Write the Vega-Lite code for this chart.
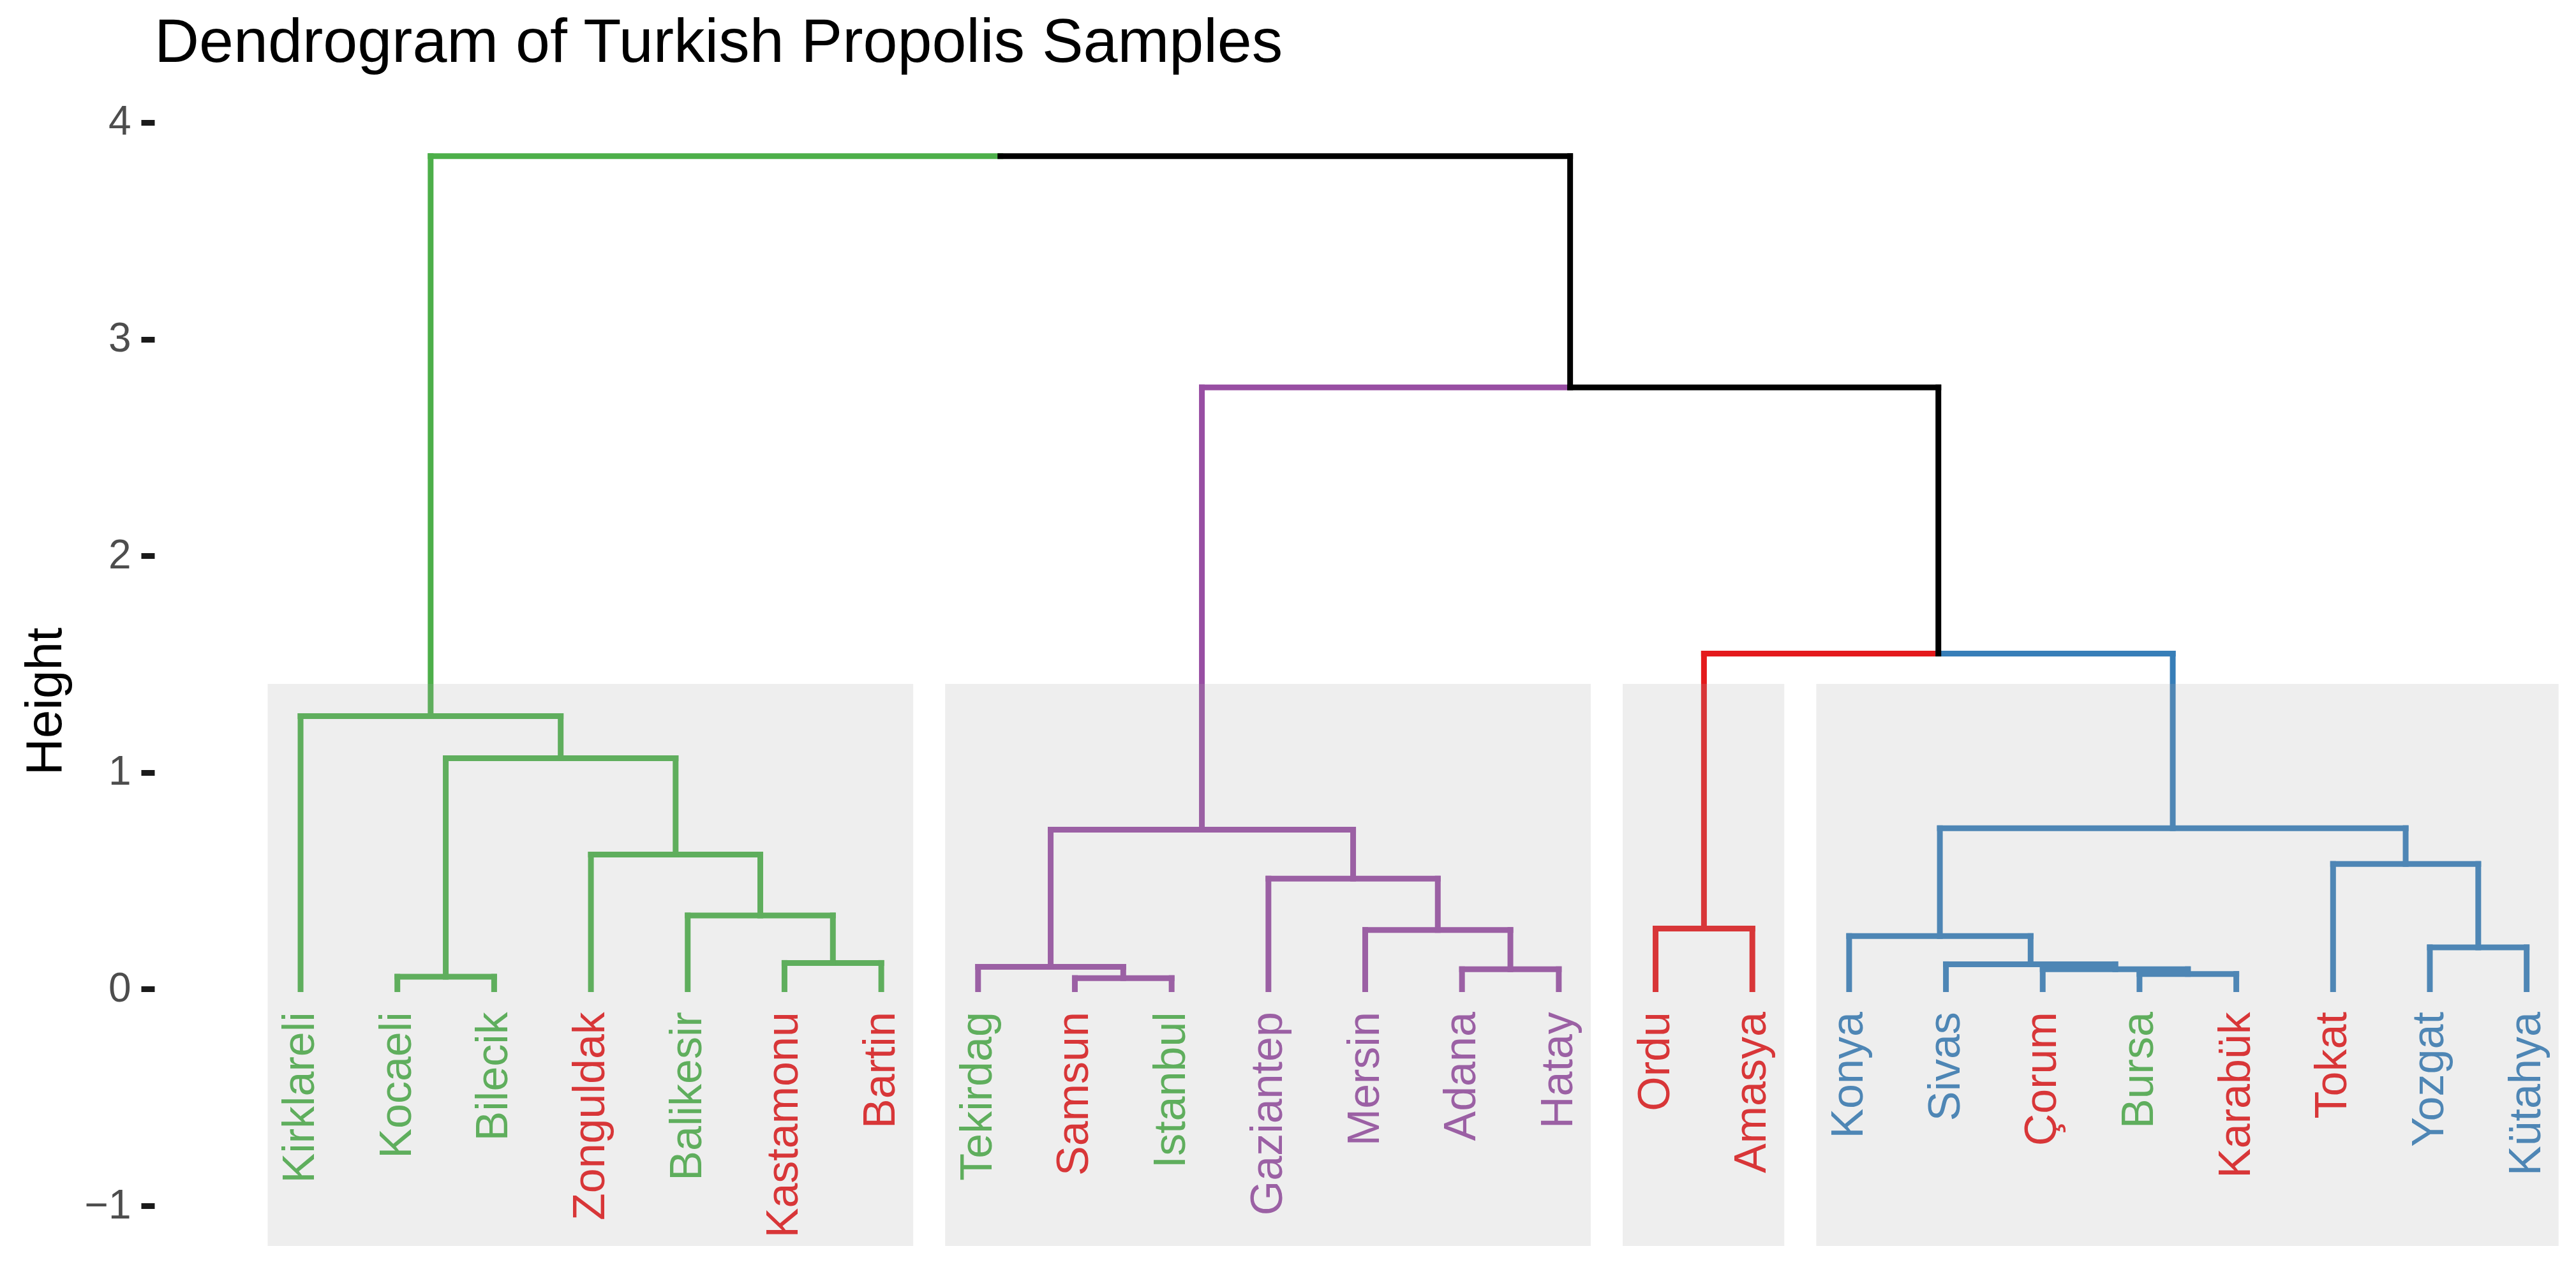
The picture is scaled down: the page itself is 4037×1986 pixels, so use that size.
{
  "$schema": "https://vega.github.io/schema/vega-lite/v6.json",
  "width": 3795,
  "height": 1819,
  "autosize": {"type": "none"},
  "padding": {"left": 242, "top": 156, "right": 0, "bottom": 0},
  "background": "white",
  "config": {"view": {"stroke": null}, "font": "Liberation Sans"},
  "title": {
    "text": "Dendrogram of Turkish Propolis Samples",
    "anchor": "start",
    "frame": "group",
    "fontSize": 97,
    "fontWeight": "normal",
    "font": "Liberation Sans",
    "color": "#000000",
    "baseline": "alphabetic",
    "offset": 59,
    "dy": 97
  },
  "datasets": {
    "segs": [
      {"x1": 6, "y1": 0.121, "x2": 7, "y2": 0.121, "c": "green"},
      {"x1": 6, "y1": 0, "x2": 6, "y2": 0.121, "c": "green"},
      {"x1": 7, "y1": 0, "x2": 7, "y2": 0.121, "c": "green"},
      {"x1": 5, "y1": 0.34, "x2": 6.5, "y2": 0.34, "c": "green"},
      {"x1": 5, "y1": 0, "x2": 5, "y2": 0.34, "c": "green"},
      {"x1": 6.5, "y1": 0.121, "x2": 6.5, "y2": 0.34, "c": "green"},
      {"x1": 4, "y1": 0.621, "x2": 5.75, "y2": 0.621, "c": "green"},
      {"x1": 4, "y1": 0, "x2": 4, "y2": 0.621, "c": "green"},
      {"x1": 5.75, "y1": 0.34, "x2": 5.75, "y2": 0.621, "c": "green"},
      {"x1": 2, "y1": 0.057, "x2": 3, "y2": 0.057, "c": "green"},
      {"x1": 2, "y1": 0, "x2": 2, "y2": 0.057, "c": "green"},
      {"x1": 3, "y1": 0, "x2": 3, "y2": 0.057, "c": "green"},
      {"x1": 2.5, "y1": 1.066, "x2": 4.875, "y2": 1.066, "c": "green"},
      {"x1": 2.5, "y1": 0.057, "x2": 2.5, "y2": 1.066, "c": "green"},
      {"x1": 4.875, "y1": 0.621, "x2": 4.875, "y2": 1.066, "c": "green"},
      {"x1": 1, "y1": 1.26, "x2": 3.6875, "y2": 1.26, "c": "green"},
      {"x1": 1, "y1": 0, "x2": 1, "y2": 1.26, "c": "green"},
      {"x1": 3.6875, "y1": 1.066, "x2": 3.6875, "y2": 1.26, "c": "green"},

      {"x1": 9, "y1": 0.051, "x2": 10, "y2": 0.051, "c": "purple"},
      {"x1": 9, "y1": 0, "x2": 9, "y2": 0.051, "c": "purple"},
      {"x1": 10, "y1": 0, "x2": 10, "y2": 0.051, "c": "purple"},
      {"x1": 8, "y1": 0.103, "x2": 9.5, "y2": 0.103, "c": "purple"},
      {"x1": 8, "y1": 0, "x2": 8, "y2": 0.103, "c": "purple"},
      {"x1": 9.5, "y1": 0.051, "x2": 9.5, "y2": 0.103, "c": "purple"},
      {"x1": 13, "y1": 0.092, "x2": 14, "y2": 0.092, "c": "purple"},
      {"x1": 13, "y1": 0, "x2": 13, "y2": 0.092, "c": "purple"},
      {"x1": 14, "y1": 0, "x2": 14, "y2": 0.092, "c": "purple"},
      {"x1": 12, "y1": 0.273, "x2": 13.5, "y2": 0.273, "c": "purple"},
      {"x1": 12, "y1": 0, "x2": 12, "y2": 0.273, "c": "purple"},
      {"x1": 13.5, "y1": 0.092, "x2": 13.5, "y2": 0.273, "c": "purple"},
      {"x1": 11, "y1": 0.51, "x2": 12.75, "y2": 0.51, "c": "purple"},
      {"x1": 11, "y1": 0, "x2": 11, "y2": 0.51, "c": "purple"},
      {"x1": 12.75, "y1": 0.273, "x2": 12.75, "y2": 0.51, "c": "purple"},
      {"x1": 8.75, "y1": 0.736, "x2": 11.875, "y2": 0.736, "c": "purple"},
      {"x1": 8.75, "y1": 0.103, "x2": 8.75, "y2": 0.736, "c": "purple"},
      {"x1": 11.875, "y1": 0.51, "x2": 11.875, "y2": 0.736, "c": "purple"},

      {"x1": 15, "y1": 0.28, "x2": 16, "y2": 0.28, "c": "red"},
      {"x1": 15, "y1": 0, "x2": 15, "y2": 0.28, "c": "red"},
      {"x1": 16, "y1": 0, "x2": 16, "y2": 0.28, "c": "red"},

      {"x1": 20, "y1": 0.07, "x2": 21, "y2": 0.07, "c": "blue"},
      {"x1": 20, "y1": 0, "x2": 20, "y2": 0.07, "c": "blue"},
      {"x1": 21, "y1": 0, "x2": 21, "y2": 0.07, "c": "blue"},
      {"x1": 19, "y1": 0.092, "x2": 20.5, "y2": 0.092, "c": "blue"},
      {"x1": 19, "y1": 0, "x2": 19, "y2": 0.092, "c": "blue"},
      {"x1": 20.5, "y1": 0.07, "x2": 20.5, "y2": 0.092, "c": "blue"},
      {"x1": 18, "y1": 0.115, "x2": 19.75, "y2": 0.115, "c": "blue"},
      {"x1": 18, "y1": 0, "x2": 18, "y2": 0.115, "c": "blue"},
      {"x1": 19.75, "y1": 0.092, "x2": 19.75, "y2": 0.115, "c": "blue"},
      {"x1": 17, "y1": 0.245, "x2": 18.875, "y2": 0.245, "c": "blue"},
      {"x1": 17, "y1": 0, "x2": 17, "y2": 0.245, "c": "blue"},
      {"x1": 18.875, "y1": 0.115, "x2": 18.875, "y2": 0.245, "c": "blue"},
      {"x1": 23, "y1": 0.193, "x2": 24, "y2": 0.193, "c": "blue"},
      {"x1": 23, "y1": 0, "x2": 23, "y2": 0.193, "c": "blue"},
      {"x1": 24, "y1": 0, "x2": 24, "y2": 0.193, "c": "blue"},
      {"x1": 22, "y1": 0.578, "x2": 23.5, "y2": 0.578, "c": "blue"},
      {"x1": 22, "y1": 0, "x2": 22, "y2": 0.578, "c": "blue"},
      {"x1": 23.5, "y1": 0.193, "x2": 23.5, "y2": 0.578, "c": "blue"},
      {"x1": 17.9375, "y1": 0.743, "x2": 22.75, "y2": 0.743, "c": "blue"},
      {"x1": 17.9375, "y1": 0.245, "x2": 17.9375, "y2": 0.743, "c": "blue"},
      {"x1": 22.75, "y1": 0.578, "x2": 22.75, "y2": 0.743, "c": "blue"},

      {"x1": 15.5, "y1": 1.549, "x2": 17.921875, "y2": 1.549, "c": "red"},
      {"x1": 15.5, "y1": 0.28, "x2": 15.5, "y2": 1.549, "c": "red"},
      {"x1": 17.921875, "y1": 1.549, "x2": 20.34375, "y2": 1.549, "c": "blue"},
      {"x1": 20.34375, "y1": 0.743, "x2": 20.34375, "y2": 1.549, "c": "blue"},

      {"x1": 10.3125, "y1": 2.777, "x2": 14.1171875, "y2": 2.777, "c": "purple"},
      {"x1": 10.3125, "y1": 0.736, "x2": 10.3125, "y2": 2.777, "c": "purple"},
      {"x1": 14.1171875, "y1": 2.777, "x2": 17.921875, "y2": 2.777, "c": "black"},
      {"x1": 17.921875, "y1": 1.549, "x2": 17.921875, "y2": 2.777, "c": "black"},

      {"x1": 2.34375, "y1": 3.845, "x2": 8.23046875, "y2": 3.845, "c": "green"},
      {"x1": 2.34375, "y1": 1.26, "x2": 2.34375, "y2": 3.845, "c": "green"},
      {"x1": 8.23046875, "y1": 3.845, "x2": 14.1171875, "y2": 3.845, "c": "black"},
      {"x1": 14.1171875, "y1": 2.777, "x2": 14.1171875, "y2": 3.845, "c": "black"}
    ],
    "labels": [
      {"pos": 1, "name": "Kirklareli", "c": "green"},
      {"pos": 2, "name": "Kocaeli", "c": "green"},
      {"pos": 3, "name": "Bilecik", "c": "green"},
      {"pos": 4, "name": "Zonguldak", "c": "red"},
      {"pos": 5, "name": "Balikesir", "c": "green"},
      {"pos": 6, "name": "Kastamonu", "c": "red"},
      {"pos": 7, "name": "Bartin", "c": "red"},
      {"pos": 8, "name": "Tekirdag", "c": "green"},
      {"pos": 9, "name": "Samsun", "c": "red"},
      {"pos": 10, "name": "Istanbul", "c": "green"},
      {"pos": 11, "name": "Gaziantep", "c": "purple"},
      {"pos": 12, "name": "Mersin", "c": "purple"},
      {"pos": 13, "name": "Adana", "c": "purple"},
      {"pos": 14, "name": "Hatay", "c": "purple"},
      {"pos": 15, "name": "Ordu", "c": "red"},
      {"pos": 16, "name": "Amasya", "c": "red"},
      {"pos": 17, "name": "Konya", "c": "blue"},
      {"pos": 18, "name": "Sivas", "c": "blue"},
      {"pos": 19, "name": "Çorum", "c": "red"},
      {"pos": 20, "name": "Bursa", "c": "green"},
      {"pos": 21, "name": "Karabük", "c": "red"},
      {"pos": 22, "name": "Tokat", "c": "red"},
      {"pos": 23, "name": "Yozgat", "c": "blue"},
      {"pos": 24, "name": "Kütahya", "c": "blue"}
    ],
    "rects": [
      {"xa": 0.66, "xb": 7.33, "ya": -1.185, "yb": 1.409},
      {"xa": 7.66, "xb": 14.33, "ya": -1.185, "yb": 1.409},
      {"xa": 14.66, "xb": 16.33, "ya": -1.185, "yb": 1.409},
      {"xa": 16.66, "xb": 24.33, "ya": -1.185, "yb": 1.409}
    ]
  },
  "layer": [
    {
      "data": {"name": "segs"},
      "mark": {"type": "rule", "strokeWidth": 9, "strokeCap": "square"},
      "encoding": {
        "x": {"field": "x1", "type": "quantitative", "scale": {"domain": [-0.51, 24.51], "nice": false, "zero": false}, "axis": null},
        "x2": {"field": "x2"},
        "y": {
          "field": "y1", "type": "quantitative",
          "scale": {"domain": [-1.25, 4.106], "nice": false, "zero": false},
          "axis": {
            "title": "Height", "values": [-1, 0, 1, 2, 3, 4], "format": "d",
            "domain": false, "grid": false, "ticks": true,
            "tickSize": 21, "tickWidth": 9, "tickColor": "#1A1A1A",
            "labelFontSize": 64, "labelColor": "#4D4D4D", "labelFont": "Liberation Sans", "labelPadding": 16,
            "titleFontSize": 80, "titleFont": "Liberation Sans", "titleFontWeight": "normal", "titleColor": "#000000",
            "titlePadding": 20, "titleY": 943
          }
        },
        "y2": {"field": "y2"},
        "color": {
          "field": "c", "type": "nominal",
          "scale": {"domain": ["green", "purple", "red", "blue", "black"], "range": ["#4DAF4A", "#984EA3", "#E41A1C", "#377EB8", "#000000"]},
          "legend": null
        }
      }
    },
    {
      "data": {"name": "labels"},
      "mark": {"type": "text", "angle": 270, "align": "right", "baseline": "middle", "fontSize": 70, "font": "Liberation Sans"},
      "encoding": {
        "x": {"field": "pos", "type": "quantitative"},
        "y": {"datum": -0.105},
        "text": {"field": "name"},
        "color": {
          "field": "c", "type": "nominal",
          "scale": {"domain": ["green", "purple", "red", "blue", "black"], "range": ["#4DAF4A", "#984EA3", "#E41A1C", "#377EB8", "#000000"]},
          "legend": null
        }
      }
    },
    {
      "data": {"name": "rects"},
      "mark": {"type": "rect", "fill": "#A9A9A9", "fillOpacity": 0.2, "strokeWidth": 0},
      "encoding": {
        "x": {"field": "xa", "type": "quantitative"},
        "x2": {"field": "xb"},
        "y": {"field": "ya", "type": "quantitative"},
        "y2": {"field": "yb"}
      }
    }
  ]
}
